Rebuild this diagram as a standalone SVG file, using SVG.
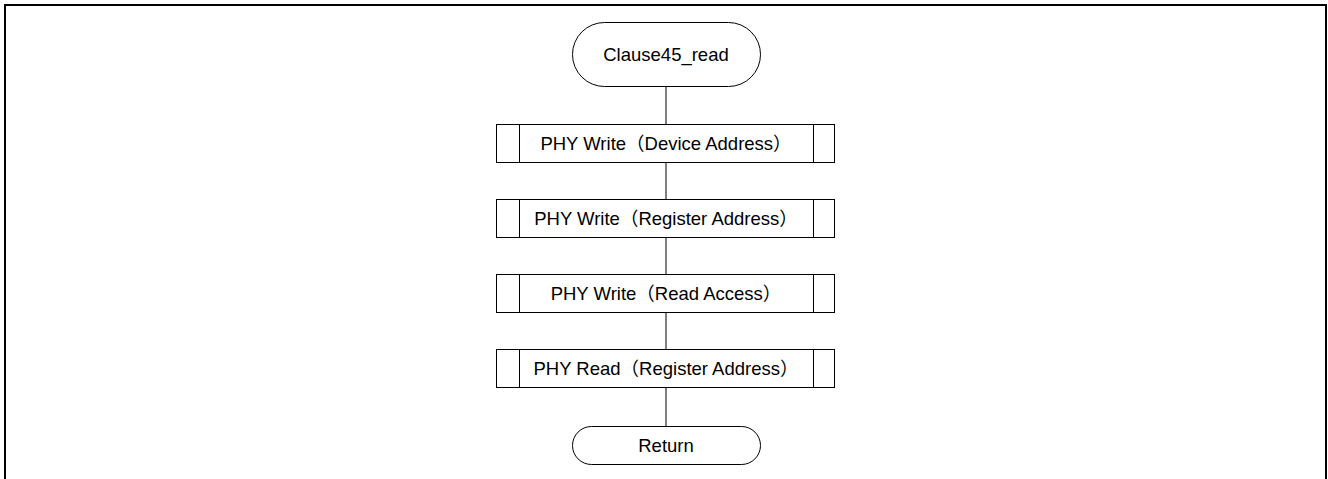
<svg xmlns="http://www.w3.org/2000/svg" width="1328" height="479" viewBox="0 0 1328 479">
<style>
.frame{fill:none;stroke:#000;stroke-width:2}
.shape{fill:#fff;stroke:#000;stroke-width:1}
.line{stroke:#000;stroke-width:1;fill:none}
text{font-family:"Liberation Sans","Noto Sans CJK JP",sans-serif;font-size:18.5px;fill:#000;text-anchor:middle}
</style>
<rect width="1328" height="479" fill="#fff"/>
<path class="frame" d="M5,480 V5 H1326 V480"/>
<g id="connectors">
<line class="line" x1="666" y1="86.5" x2="666" y2="124"/>
<line class="line" x1="666" y1="162" x2="666" y2="199"/>
<line class="line" x1="666" y1="237" x2="666" y2="274"/>
<line class="line" x1="666" y1="312" x2="666" y2="349"/>
<line class="line" x1="666" y1="387" x2="666" y2="426"/>
</g>
<g id="start">
<rect class="shape" x="572.5" y="22.5" width="188" height="64" rx="32" ry="32"/>
<text x="666" y="61">Clause45_read</text>
</g>
<g id="p1">
<rect class="shape" x="496.5" y="124.5" width="338" height="38"/>
<line class="line" x1="519.5" y1="124.5" x2="519.5" y2="162.5"/>
<line class="line" x1="813.5" y1="124.5" x2="813.5" y2="162.5"/>
<text x="666" y="150">PHY Write（Device Address）</text>
</g>
<g id="p2">
<rect class="shape" x="496.5" y="199.5" width="338" height="38"/>
<line class="line" x1="519.5" y1="199.5" x2="519.5" y2="237.5"/>
<line class="line" x1="813.5" y1="199.5" x2="813.5" y2="237.5"/>
<text x="666" y="225">PHY Write（Register Address）</text>
</g>
<g id="p3">
<rect class="shape" x="496.5" y="274.5" width="338" height="38"/>
<line class="line" x1="519.5" y1="274.5" x2="519.5" y2="312.5"/>
<line class="line" x1="813.5" y1="274.5" x2="813.5" y2="312.5"/>
<text x="666" y="300">PHY Write（Read Access）</text>
</g>
<g id="p4">
<rect class="shape" x="496.5" y="349.5" width="338" height="38"/>
<line class="line" x1="519.5" y1="349.5" x2="519.5" y2="387.5"/>
<line class="line" x1="813.5" y1="349.5" x2="813.5" y2="387.5"/>
<text x="666" y="375">PHY Read（Register Address）</text>
</g>
<g id="end">
<rect class="shape" x="572.5" y="426.5" width="188" height="38" rx="19" ry="19"/>
<text x="666" y="451.5">Return</text>
</g>
</svg>
